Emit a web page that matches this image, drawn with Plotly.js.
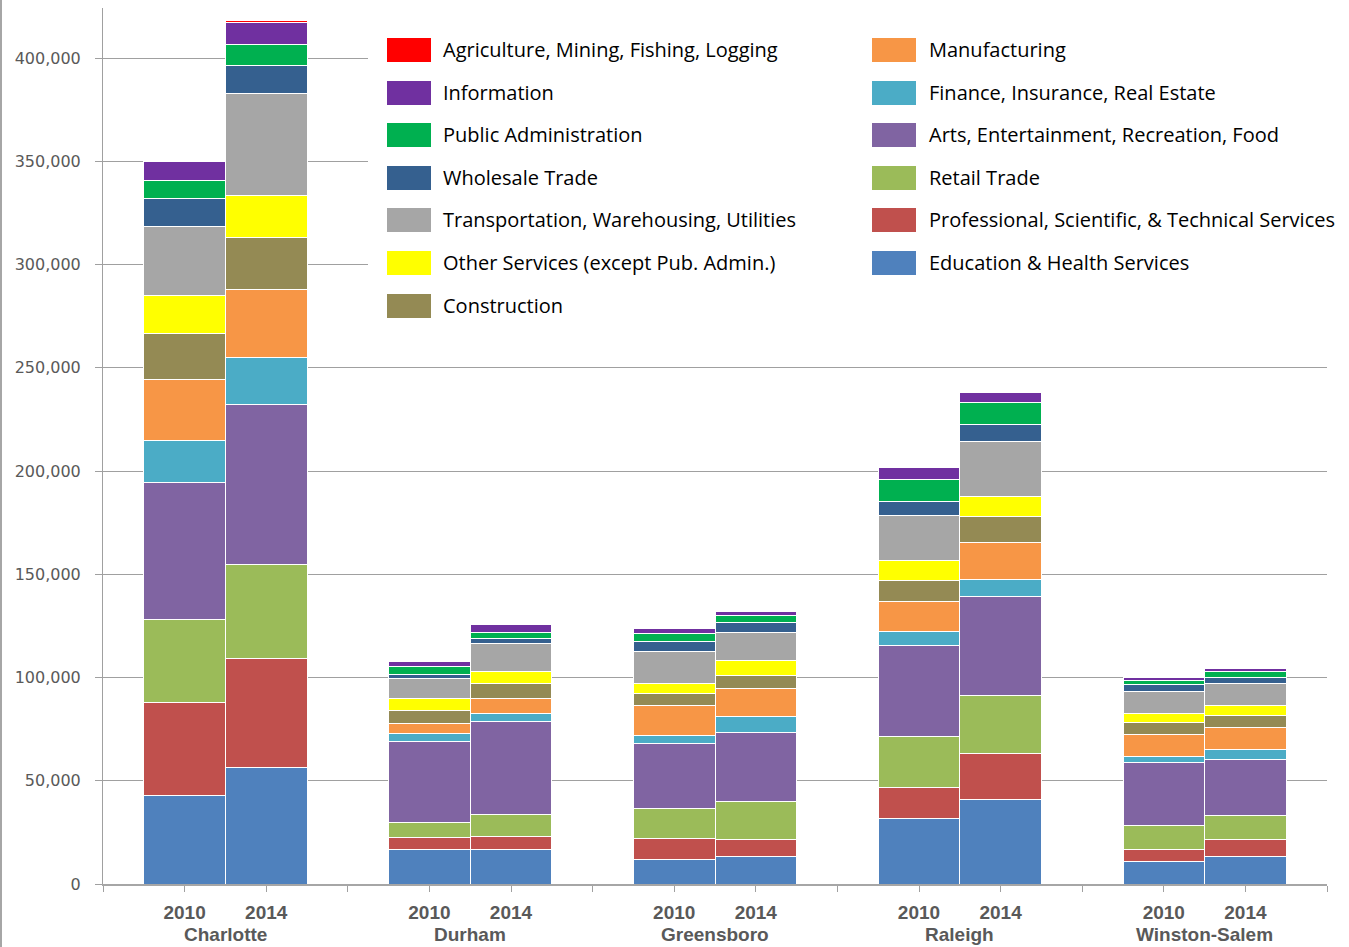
<!DOCTYPE html>
<html><head><meta charset="utf-8">
<script src="https://cdn.plot.ly/plotly-3.0.1.min.js"></script>
<style>html,body{margin:0;padding:0;background:#fff;}#chart{width:1349px;height:947px;}</style>
</head><body><div id="chart"></div>
<script>
// Categories
const cities = ['Charlotte', 'Durham', 'Greensboro', 'Raleigh', 'Winston-Salem'];
const years = ['2010', '2014'];
const yTickVals = [0, 50000, 100000, 150000, 200000, 250000, 300000, 350000, 400000];

// Series values, order: Charlotte 2010, Charlotte 2014, Durham 2010, Durham 2014, Greensboro 2010, Greensboro 2014, Raleigh 2010, Raleigh 2014, Winston-Salem 2010, Winston-Salem 2014
const education      = [43100, 56500, 16500, 16500, 12100, 13100, 31800, 41000, 11000, 13400];
const professional   = [44700, 52600,  6100,  6300, 10000,  8400, 14800, 22100,  5900,  8100];
const retail         = [40500, 45500,  7400, 11100, 14700, 18400, 24700, 28400, 11200, 11800];
const arts           = [65900, 77700, 39100, 45000, 31300, 33700, 44400, 47500, 30600, 27200];
const finance        = [20800, 22800,  3900,  3800,  3600,  7300,  6800,  8700,  3100,  4500];
const manufacturing  = [29100, 33000,  4800,  7200, 14600, 14000, 14200, 17900, 10400, 10900];
const construction   = [22700, 25100,  6000,  7300,  6000,  6200, 10500, 12600,  6100,  5500];
const otherServices  = [18400, 20300,  6100,  5900,  5000,  6900,  9700,  9400,  4500,  5100];
const transportation = [33400, 49100,  9400, 13500, 15500, 14000, 21500, 26800, 10300, 10800];
const wholesale      = [13600, 14000,  2200,  2400,  4700,  4400,  6600,  8000,  3300,  2600];
const publicAdmin    = [ 8700,  9700,  3900,  3000,  3900,  3500, 11100, 11000,  2200,  3200];
const information    = [ 8900, 11000,  2400,  3600,  2200,  2300,  5400,  4700,  1300,  1500];
const agriculture    = [  300,  1100,   200,   200,   200,   200,   300,   300,   200,   200];

// Series names (bottom of stack first)
const seriesNames = [
  'Education & Health Services',
  'Professional, Scientific, & Technical Services',
  'Retail Trade',
  'Arts, Entertainment, Recreation, Food',
  'Finance, Insurance, Real Estate',
  'Manufacturing',
  'Construction',
  'Other Services (except Pub. Admin.)',
  'Transportation, Warehousing, Utilities',
  'Wholesale Trade',
  'Public Administration',
  'Information',
  'Agriculture, Mining, Fishing, Logging'
];
const seriesValues = [education, professional, retail, arts, finance, manufacturing,
  construction, otherServices, transportation, wholesale, publicAdmin, information, agriculture];
const seriesColors = ['#4F81BD', '#C0504D', '#9BBB59', '#8064A2', '#4BACC6', '#F79646',
  '#948A54', '#FFFF00', '#A6A6A6', '#35608F', '#00B050', '#7030A0', '#FF0000'];

// Legend columns (indices into series, top to bottom)
const legendLeft = [12, 11, 10, 9, 8, 7, 6];
const legendRight = [5, 4, 3, 2, 1, 0];

// Layout geometry
const W = 1349, H = 947;
const M = {l: 103, r: 22, t: 8, b: 63};
const PW = W - M.l - M.r, PH = H - M.t - M.b;
const px2x = p => (p - M.l) / PW;
const px2y = p => (H - M.b - p) / PH;

// bar positions: each city occupies 3 units, bars at 1 and 2 within group
const xPos = [], xLabels = [];
cities.forEach((c, i) => years.forEach((y, j) => { xPos.push(3 * i + 1 + j); xLabels.push(y); }));
const boundaries = cities.map((c, i) => 3 * i).concat([3 * cities.length]);

const traces = seriesNames.map((n, k) => ({
  type: 'bar', name: n, x: xPos, y: seriesValues[k], width: 1,
  marker: {color: seriesColors[k], line: {color: '#ffffff', width: 1}},
  showlegend: false, hoverinfo: 'y+name'
}));

const tickFont = {family: '"Liberation Sans", Arial, sans-serif', size: 19, color: '#595959', weight: 'bold'};
const legendFont = {family: '"Open Sans", Lato, sans-serif', size: 20, color: '#000000'};

const shapes = [];
const annotations = [];
// white legend background hiding gridlines
shapes.push({type: 'rect', xref: 'paper', yref: 'paper', x0: px2x(368), x1: px2x(1349), y0: px2y(340), y1: px2y(25),
  fillcolor: '#ffffff', line: {width: 0}, layer: 'above'});
const rowY = [50, 93, 135, 178, 220, 263, 306];
function legendCol(list, sx, tx) {
  list.forEach((k, r) => {
    shapes.push({type: 'rect', xref: 'paper', yref: 'paper', x0: px2x(sx), x1: px2x(sx + 44),
      y0: px2y(rowY[r] + 12), y1: px2y(rowY[r] - 12), fillcolor: seriesColors[k], line: {width: 0}, layer: 'above'});
    annotations.push({xref: 'paper', yref: 'paper', x: px2x(tx), y: px2y(rowY[r] - 1), xanchor: 'left', yanchor: 'middle',
      text: seriesNames[k], showarrow: false, font: legendFont});
  });
}
legendCol(legendLeft, 387, 441);
legendCol(legendRight, 872, 927);
// city labels
cities.forEach((c, i) => {
  annotations.push({xref: 'x', yref: 'paper', x: 3 * i + 1.5, y: px2y(935), xanchor: 'center', yanchor: 'middle',
    text: c, showarrow: false, font: tickFont});
});
// left frame line
shapes.push({type: 'line', xref: 'paper', yref: 'paper', x0: px2x(1), x1: px2x(1), y0: px2y(H), y1: px2y(0),
  line: {color: '#a6a6a6', width: 2}});

const layout = {
  width: W, height: H, margin: M, barmode: 'stack', bargap: 0,
  paper_bgcolor: '#ffffff', plot_bgcolor: '#ffffff', showlegend: false,
  xaxis: {range: [0, 3 * cities.length], tickmode: 'array', tickvals: xPos, ticktext: xLabels,
    ticks: 'outside', ticklen: 6, tickwidth: 1, tickcolor: '#a0a0a0', tickfont: tickFont, ticklabelstandoff: 4,
    minor: {tickmode: 'array', tickvals: boundaries, ticks: 'outside', ticklen: 6, tickwidth: 1, tickcolor: '#a0a0a0'},
    showline: true, linecolor: '#a6a6a6', linewidth: 2, showgrid: false, zeroline: false, fixedrange: true},
  yaxis: {range: [0, PH / 2.065 * 1000], tickmode: 'array', tickvals: yTickVals, tickformat: ',',
    ticks: 'outside', ticklen: 7, tickcolor: '#a0a0a0', ticklabelstandoff: 11,
    tickfont: {family: '"DejaVu Sans", Verdana, sans-serif', size: 16, color: '#595959'},
    showline: true, linecolor: '#a0a0a0', linewidth: 1, showgrid: true, gridcolor: '#a0a0a0', gridwidth: 1,
    zeroline: false, fixedrange: true},
  shapes: shapes, annotations: annotations
};
Plotly.newPlot('chart', traces, layout, {displayModeBar: false, staticPlot: true});
</script></body></html>
